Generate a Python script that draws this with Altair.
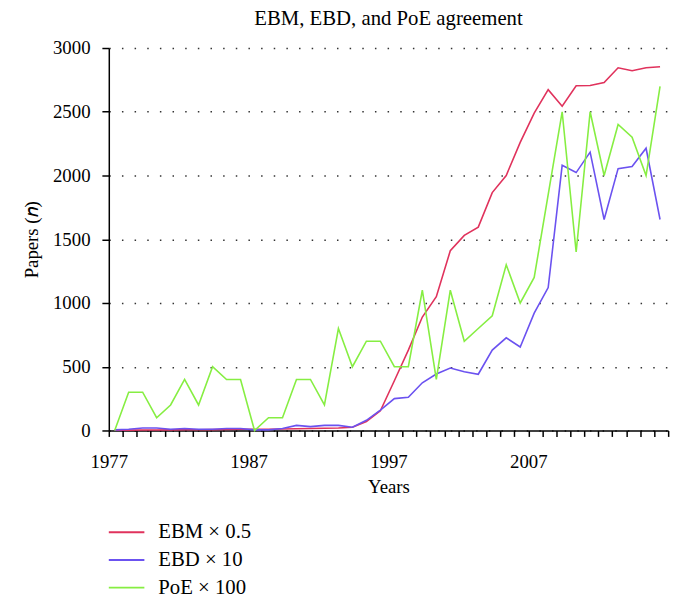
import altair as alt
import pandas as pd

years = list(range(1977, 2017))

ebm = [2, 3, 4, 4, 5, 6, 6, 7, 8, 9, 9, 10, 12, 14, 16, 18, 20, 25, 70, 155,
       390, 630, 890, 1050, 1410, 1530, 1595, 1866, 2000, 2260, 2490, 2673, 2544, 2704,
       2706, 2729, 2845, 2822, 2845, 2853]
ebd = [5, 10, 20, 20, 10, 15, 10, 10, 15, 15, 5, 5, 15, 40, 30, 40, 40, 25, 80, 160,
       250, 260, 374, 443, 490, 461, 441, 631, 727, 655, 920, 1121, 2080, 2023,
       2183, 1655, 2054, 2070, 2214, 1655]
poe = [0, 300, 300, 100, 200, 400, 200, 500, 400, 400, 0, 100, 100, 400, 400, 200,
       800, 500, 700, 700, 500, 500, 1100, 400, 1100, 700, 800, 900, 1300, 1000,
       1200, 1850, 2500, 1400, 2500, 2000, 2400, 2300, 2000, 2700]

series_names = ["EBM \u00d7 0.5", "EBD \u00d7 10", "PoE \u00d7 100"]
series_colors = ["#E0325C", "#6B52F0", "#86EE42"]
tick_years = list(range(1977, 2018))
label_years = [1977, 1987, 1997, 2007]
y_ticks = [0, 500, 1000, 1500, 2000, 2500, 3000]

rows = []
for name, vals in zip(series_names, [ebm, ebd, poe]):
    for yr, v in zip(years, vals):
        rows.append({"Year": yr, "Papers": v, "Series": name})
df = pd.DataFrame(rows)

legend_df = pd.DataFrame({"Series": series_names, "row": list(range(len(series_names)))})

FONT = "Liberation Serif"
color_scale = alt.Scale(domain=series_names, range=series_colors)
label_test = " || ".join(f"datum.value == {y}" for y in label_years)

lines = alt.Chart(df).transform_calculate(
    xpos="datum.Year + 0.42"
).mark_line(strokeWidth=1.6).encode(
    x=alt.X("xpos:Q",
            scale=alt.Scale(domain=[1977, 2017], nice=False, zero=False),
            axis=alt.Axis(values=tick_years, title="Years",
                          labelExpr=f"({label_test}) ? datum.label : ''",
                          format="d", grid=False, tickSize=6, tickColor="black",
                          tickWidth=1.5, domainColor="black", domainWidth=1.5,
                          labelFont=FONT, labelFontSize=19, labelColor="black",
                          titleFont=FONT, titleFontSize=19, titleFontWeight="normal",
                          titleColor="black", labelPadding=16, titlePadding=7,
                          labelOverlap=False, labelFlush=False)),
    y=alt.Y("Papers:Q",
            scale=alt.Scale(domain=[0, 3000], nice=False),
            axis=alt.Axis(values=y_ticks, title="Papers (\U0001D45B)", format="d",
                          grid=True, gridDash=[1.5, 11.3], gridColor="#333333",
                          gridWidth=1.5, tickSize=7, tickColor="black", tickWidth=1.5,
                          domainColor="black", domainWidth=1.5,
                          labelFont=FONT, labelFontSize=19, labelColor="black",
                          titleFont=FONT, titleFontSize=19, titleFontWeight="normal",
                          titleColor="black", labelPadding=12, titlePadding=11)),
    color=alt.Color("Series:N", scale=color_scale, legend=None),
)

legend_y = alt.Y("row:Q", scale=alt.Scale(domain=[0, 2], range=[490, 546]), axis=None)

legend_lines = alt.Chart(legend_df).mark_rule(strokeWidth=2).encode(
    x=alt.value(0), x2=alt.value(36), y=legend_y,
    color=alt.Color("Series:N", scale=color_scale, legend=None),
)

legend_text = alt.Chart(legend_df).mark_text(
    align="left", baseline="middle", font=FONT, fontSize=21, color="black"
).encode(
    x=alt.value(50), y=legend_y, text="Series:N",
)

chart = alt.layer(lines, legend_lines, legend_text).resolve_scale(
    y="independent"
).properties(
    width=566, height=387,
    title=alt.TitleParams("EBM, EBD, and PoE agreement", font=FONT, fontSize=21,
                          fontWeight="normal", color="black", anchor="middle", offset=10),
    autosize=alt.AutoSizeParams(type="none"),
    padding={"left": 102, "top": 37, "right": 14, "bottom": 165},
).configure_view(stroke=None)

chart.save("out.html", embed_options={"renderer": "svg", "actions": False})
